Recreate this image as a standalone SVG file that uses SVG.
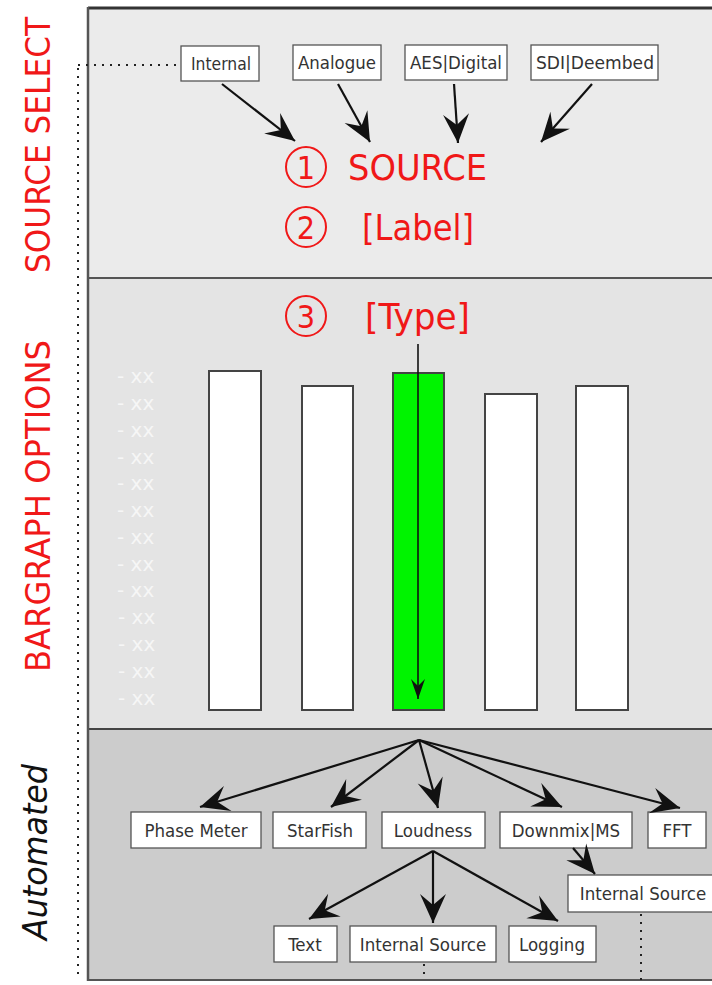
<svg xmlns="http://www.w3.org/2000/svg" width="712" height="985" viewBox="0 0 712 985">
<style>
.box rect{fill:#fff;stroke:#555;stroke-width:1.3}
.box text{font-family:"DejaVu Sans Condensed","DejaVu Sans",sans-serif;font-size:18.5px;fill:#333;text-anchor:middle}
.red{fill:#f01818;font-family:"DejaVu Sans Condensed","DejaVu Sans",sans-serif}
.circ{fill:none;stroke:#f01818;stroke-width:2}
.bar{fill:#fff;stroke:#444;stroke-width:2}
.tick{fill:#f6f6f6;font-family:"DejaVu Sans",sans-serif;font-size:20px}
.conn line{stroke:#111;stroke-width:2.2}
.dot{stroke:#222;stroke-width:2;stroke-dasharray:2 6;fill:none}
</style>
<defs>
<marker id="ah" markerUnits="userSpaceOnUse" viewBox="-30 -14 32 28" refX="0" refY="0" markerWidth="32" markerHeight="28" orient="auto">
<path d="M0,0 L-29,-13 L-18,0 L-29,13 Z" fill="#111"/>
</marker>
<marker id="ahs" markerUnits="userSpaceOnUse" viewBox="-20 -8 22 16" refX="0" refY="0" markerWidth="22" markerHeight="16" orient="auto">
<path d="M0,0 L-20,-7 L-13,0 L-20,7 Z" fill="#111"/>
</marker>
</defs>
<rect width="712" height="985" fill="#fff"/>
<g id="panels">
<rect x="88" y="8" width="630" height="270" fill="#ebebeb"/>
<rect x="88" y="278" width="630" height="451" fill="#e4e4e4"/>
<rect x="88" y="729" width="630" height="251" fill="#cccccc"/>
<line x1="88" y1="8" x2="712" y2="8" stroke="#333" stroke-width="3"/>
<line x1="88" y1="278" x2="712" y2="278" stroke="#555" stroke-width="2"/>
<line x1="88" y1="729" x2="712" y2="729" stroke="#444" stroke-width="2"/>
<line x1="88" y1="980" x2="712" y2="980" stroke="#555" stroke-width="2"/>
<line x1="88" y1="7" x2="88" y2="981" stroke="#555" stroke-width="2.5"/>
</g>
<g id="side-labels">
<text class="red" transform="translate(50,145) rotate(-90)" font-size="34" text-anchor="middle" textLength="256" lengthAdjust="spacingAndGlyphs">SOURCE SELECT</text>
<text class="red" transform="translate(50,506) rotate(-90)" font-size="34" text-anchor="middle" textLength="332" lengthAdjust="spacingAndGlyphs">BARGRAPH OPTIONS</text>
<text transform="translate(47,852) rotate(-90)" font-family="'DejaVu Sans',sans-serif" font-style="italic" font-size="34" fill="#111" text-anchor="middle" textLength="176" lengthAdjust="spacingAndGlyphs">Automated</text>
</g>
<g id="dotted">
<path class="dot" d="M78,65 H181"/>
<path class="dot" d="M78,68 V980"/>
<path class="dot" d="M424,964 V980"/>
<path class="dot" d="M641,914 V980"/>
</g>
<g id="src-internal" class="box"><rect x="181" y="46" width="78" height="35"/><text x="221" y="70" textLength="60" lengthAdjust="spacingAndGlyphs">Internal</text></g>
<g id="src-analogue" class="box"><rect x="293" y="45" width="88" height="35"/><text x="337" y="69" textLength="78" lengthAdjust="spacingAndGlyphs">Analogue</text></g>
<g id="src-aes" class="box"><rect x="405" y="45" width="102" height="35"/><text x="456" y="69" textLength="92" lengthAdjust="spacingAndGlyphs">AES|Digital</text></g>
<g id="src-sdi" class="box"><rect x="531" y="45" width="127" height="35"/><text x="595" y="69" textLength="118" lengthAdjust="spacingAndGlyphs">SDI|Deembed</text></g>
<g id="source">
<circle class="circ" cx="306" cy="167" r="20"/><text class="red" x="306" y="179" font-size="32" text-anchor="middle">1</text>
<text class="red" x="348" y="180" font-size="36" textLength="139" lengthAdjust="spacingAndGlyphs">SOURCE</text>
</g>
<g id="label">
<circle class="circ" cx="306" cy="227" r="20"/><text class="red" x="306" y="239" font-size="32" text-anchor="middle">2</text>
<text class="red" x="362" y="240" font-size="36" textLength="112" lengthAdjust="spacingAndGlyphs">[Label]</text>
</g>
<g id="type">
<circle class="circ" cx="306" cy="316" r="20"/><text class="red" x="306" y="328" font-size="32" text-anchor="middle">3</text>
<text class="red" x="365" y="329" font-size="36" textLength="105" lengthAdjust="spacingAndGlyphs">[Type]</text>
</g>
<g id="scale">
<text class="tick" x="117" y="383">- xx</text>
<text class="tick" x="117" y="410">- xx</text>
<text class="tick" x="117" y="437">- xx</text>
<text class="tick" x="117" y="464">- xx</text>
<text class="tick" x="117" y="490">- xx</text>
<text class="tick" x="117" y="517">- xx</text>
<text class="tick" x="117" y="544">- xx</text>
<text class="tick" x="117" y="571">- xx</text>
<text class="tick" x="117" y="597">- xx</text>
<text class="tick" x="118" y="624">- xx</text>
<text class="tick" x="118" y="651">- xx</text>
<text class="tick" x="118" y="678">- xx</text>
<text class="tick" x="118" y="705">- xx</text>
</g>
<g id="bar1"><rect class="bar" x="209" y="371" width="52" height="339"/></g>
<g id="bar2"><rect class="bar" x="302" y="386" width="51" height="324"/></g>
<g id="bar3"><rect class="bar" x="393" y="373" width="51" height="337" style="fill:#00f400"/></g>
<g id="bar4"><rect class="bar" x="485" y="394" width="52" height="316"/></g>
<g id="bar5"><rect class="bar" x="576" y="386" width="52" height="324"/></g>
<g id="a-phase" class="box"><rect x="131" y="812" width="130" height="36"/><text x="196" y="837">Phase Meter</text></g>
<g id="a-starfish" class="box"><rect x="273" y="812" width="93" height="36"/><text x="320" y="837">StarFish</text></g>
<g id="a-loudness" class="box"><rect x="382" y="812" width="103" height="36"/><text x="433" y="837">Loudness</text></g>
<g id="a-downmix" class="box"><rect x="500" y="812" width="132" height="36"/><text x="566" y="837">Downmix|MS</text></g>
<g id="a-fft" class="box"><rect x="648" y="812" width="58" height="36"/><text x="677" y="837">FFT</text></g>
<g id="a-intsrc2" class="box"><rect x="568" y="875" width="150" height="37"/><text x="643" y="900">Internal Source</text></g>
<g id="l-text" class="box"><rect x="274" y="926" width="63" height="36"/><text x="305" y="951">Text</text></g>
<g id="l-intsrc" class="box"><rect x="350" y="926" width="146" height="36"/><text x="423" y="951">Internal Source</text></g>
<g id="l-logging" class="box"><rect x="509" y="926" width="87" height="36"/><text x="552" y="951">Logging</text></g>
<g id="connectors" class="conn">
<line x1="222" y1="84" x2="295" y2="141" marker-end="url(#ah)"/>
<line x1="338" y1="84" x2="370" y2="142" marker-end="url(#ah)"/>
<line x1="454" y1="84" x2="458" y2="143" marker-end="url(#ah)"/>
<line x1="592" y1="84" x2="541" y2="142" marker-end="url(#ah)"/>
<line x1="418" y1="344" x2="418" y2="699" marker-end="url(#ahs)" style="stroke-width:1.6"/>
<line x1="419" y1="740" x2="200" y2="807" marker-end="url(#ah)"/>
<line x1="419" y1="740" x2="331" y2="807" marker-end="url(#ah)"/>
<line x1="419" y1="740" x2="438" y2="808" marker-end="url(#ah)"/>
<line x1="419" y1="740" x2="562" y2="807" marker-end="url(#ah)"/>
<line x1="419" y1="740" x2="680" y2="808" marker-end="url(#ah)"/>
<line x1="573" y1="848" x2="595" y2="874" marker-end="url(#ah)"/>
<line x1="433" y1="851" x2="309" y2="919" marker-end="url(#ah)"/>
<line x1="433" y1="851" x2="433" y2="923" marker-end="url(#ah)"/>
<line x1="433" y1="851" x2="558" y2="921" marker-end="url(#ah)"/>
</g>
</svg>
